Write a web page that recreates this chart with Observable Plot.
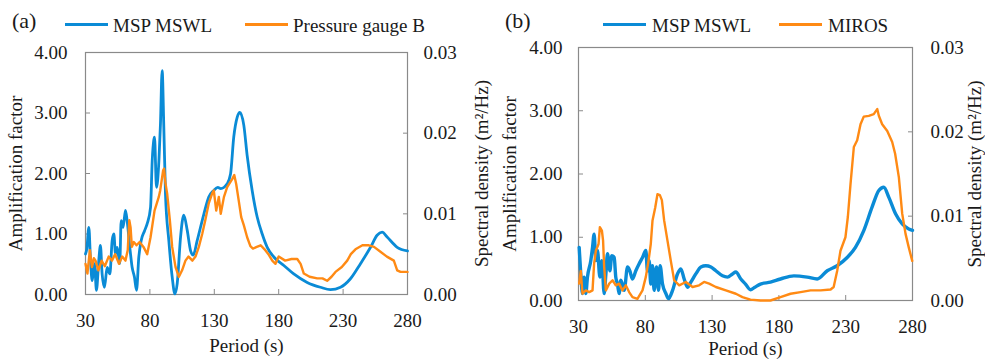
<!DOCTYPE html>
<html>
<head>
<meta charset="utf-8">
<script src="https://cdn.jsdelivr.net/npm/d3@7"></script>
<script src="https://cdn.jsdelivr.net/npm/@observablehq/plot@0.6"></script>
<style>
  html, body { margin: 0; padding: 0; background: #fff; }
  #wrap { position: relative; width: 985px; height: 361px; overflow: hidden; font-family: "Liberation Serif", "Times New Roman", serif; color: #1a1a1a; }
  .panel { position: absolute; top: 0; }
  .tag { position: absolute; font-size: 22px; line-height: 22px; }
  .sw { position: absolute; height: 0; border-top: 3px solid; width: 43px; }
  .lt { position: absolute; font-size: 19px; line-height: 19px; white-space: nowrap; }
</style>
</head>
<body>
<div id="wrap">
  <div id="pa" class="panel" style="left:0px"></div>
  <div id="pb" class="panel" style="left:490px"></div>
  <div class="tag" style="left:12px; top:10px">(a)</div>
  <div class="sw" style="left:65px; top:23px; border-color:#0a8bd6"></div>
  <div class="lt" style="left:113px; top:16px">MSP MSWL</div>
  <div class="sw" style="left:245px; top:23px; border-color:#ff8a14"></div>
  <div class="lt" style="left:293px; top:16px">Pressure gauge B</div>
  <div class="tag" style="left:505px; top:10px">(b)</div>
  <div class="sw" style="left:603px; top:23px; border-color:#0a8bd6"></div>
  <div class="lt" style="left:652px; top:16px">MSP MSWL</div>
  <div class="sw" style="left:779px; top:23px; border-color:#ff8a14"></div>
  <div class="lt" style="left:828px; top:16px">MIROS</div>
</div>
<script>
// ---- tick values ----
const periodTicks = [30, 80, 130, 180, 230, 280];
const ampTicks = [0, 1, 2, 3, 4];
const sdTicks = [0, 0.01, 0.02, 0.03];

// ---- panel (a): MSP MSWL amplification factor [period (s), factor] ----
const aMswl = [[30,0.67],[31,0.75],[32.6,1.11],[33.9,0.56],[35.2,0.23],[37,0.51],[38.5,0.07],[40.3,0.56],[41.6,0.81],[42.9,0.34],[44.7,0.12],[46.8,0.45],[48.9,0.34],[50.7,0.89],[52,1.0],[53.3,0.67],[54.6,0.78],[56.6,0.51],[57.7,1.22],[59.2,1.11],[61,1.39],[62.3,1.22],[64.4,0.78],[66.2,0.45],[68,0.29],[69.6,0.07],[71.4,0.62],[73.2,0.89],[75.8,1.05],[77.9,1.17],[80.5,1.44],[81.8,2.21],[83,2.55],[83.6,2.6],[85.1,1.77],[87,2.21],[88.2,2.82],[89.5,3.7],[90.8,2.77],[92.1,1.66],[94.7,0.89],[97.3,0.29],[99.4,0.01],[101.2,0.18],[103.8,0.95],[106.3,1.31],[109,1.06],[111.5,0.73],[113.6,0.65],[116.7,0.89],[121.9,1.33],[125.7,1.61],[129.6,1.72],[132.7,1.77],[135,1.75],[140,1.83],[142.6,1.99],[145.1,2.6],[147.8,2.93],[149.8,3.01],[152.9,2.8],[155.5,2.3],[159.4,1.72],[163.3,1.28],[167.2,1.0],[171.1,0.78],[176.2,0.62],[184,0.48],[191.7,0.34],[202.1,0.2],[212.4,0.12],[220.2,0.08],[228,0.12],[235.7,0.26],[243.5,0.51],[251.3,0.78],[256.4,0.98],[260.3,1.03],[264.2,0.95],[272,0.78],[280,0.72]];

// ---- panel (a): Pressure gauge B spectral density [period (s), m2/Hz] ----
const aGauge = [[30,0.0038],[31.5,0.0026],[33.4,0.0055],[35,0.0034],[36.5,0.0045],[37.8,0.0042],[40,0.0030],[42.5,0.0042],[45,0.0035],[48,0.0047],[50.5,0.0042],[53,0.0050],[56,0.0038],[58.5,0.0047],[61,0.0042],[62.8,0.0055],[64,0.0092],[65,0.0083],[66,0.0059],[67.5,0.0065],[69.6,0.0061],[72,0.0065],[75,0.0059],[77.9,0.0050],[80.5,0.0071],[83.6,0.0104],[86.9,0.0121],[88,0.0129],[90.3,0.0154],[91,0.0156],[92,0.0139],[93.4,0.0125],[95.5,0.0092],[97.3,0.0059],[99.9,0.0034],[102.5,0.0022],[105,0.0030],[107.6,0.0042],[110,0.0047],[113,0.0042],[115.4,0.0047],[118,0.0059],[120.6,0.0075],[123,0.0092],[125.7,0.0113],[128.3,0.0125],[129.6,0.0129],[131.5,0.0104],[133.5,0.0121],[135,0.0100],[137.5,0.0121],[140,0.0133],[143.9,0.0143],[145.5,0.0148],[147,0.0137],[149,0.0116],[150.9,0.0096],[152.9,0.0086],[155.5,0.0071],[158,0.0060],[160,0.0057],[163,0.0059],[166,0.0061],[169,0.0056],[172,0.0050],[175,0.0042],[177.5,0.0038],[180,0.0047],[185,0.0042],[190,0.0044],[194.4,0.0044],[197,0.0038],[199.5,0.0026],[204,0.0022],[209.9,0.0020],[214,0.0020],[217.6,0.0017],[221,0.0022],[224.1,0.0028],[229,0.0034],[233.2,0.0042],[236,0.0050],[239.6,0.0056],[245,0.0061],[250,0.0061],[254,0.0059],[259,0.0053],[264,0.0047],[269.4,0.0042],[272,0.0030],[274.6,0.0028],[280,0.0028]];

// ---- panel (b): MSP MSWL amplification factor ----
const bMswl = [[30.5,0.84],[31.7,0.42],[33,0.11],[34.2,0.37],[35.5,0.11],[36.7,0.37],[39.2,0.63],[40.5,0.84],[41.7,1.05],[43,0.63],[44.2,0.79],[46,0.37],[47.5,0.63],[49.2,0.11],[50.5,0.42],[51.7,0.74],[53.5,0.47],[54.9,0.71],[56.7,0.68],[57.9,0.37],[59.2,0.26],[60.4,0.11],[61.7,0.32],[64.2,0.16],[66.7,0.53],[68.4,0.47],[70.4,0.34],[72.9,0.47],[75.4,0.58],[77.9,0.68],[80.4,0.79],[81.6,0.47],[82.9,0.63],[84.1,0.26],[85.4,0.55],[86.6,0.16],[88.4,0.53],[89.9,0.16],[91.1,0.55],[92.9,0.26],[95.4,0.11],[97.4,0.03],[100.4,0.16],[104.1,0.42],[106.6,0.5],[109.1,0.34],[111.6,0.21],[114.1,0.29],[117.8,0.42],[121.6,0.53],[125.3,0.55],[129.1,0.53],[132.8,0.47],[137.8,0.39],[141.5,0.37],[145.3,0.42],[147.8,0.45],[151.5,0.34],[155,0.26],[158.7,0.17],[162,0.21],[166.2,0.26],[173.7,0.29],[181.2,0.34],[191.2,0.39],[201.2,0.37],[208.7,0.34],[216.2,0.47],[223.6,0.55],[231.1,0.68],[237.3,0.84],[243.6,1.11],[249.8,1.48],[254.8,1.74],[258.5,1.79],[262.3,1.63],[267.3,1.37],[272.3,1.21],[277.2,1.13],[280,1.11]];

// ---- panel (b): MIROS spectral density ----
const bMiros = [[30.5,0.0020],[31.7,0.0035],[33,0.0008],[35.5,0.0012],[38,0.0010],[40.5,0.0012],[41.7,0.0044],[43,0.0059],[45,0.0067],[46,0.0087],[47.5,0.0083],[48.4,0.0071],[49.2,0.0040],[50.5,0.0012],[53,0.0020],[55.5,0.0024],[57.9,0.0018],[60.4,0.0020],[62.9,0.0012],[65.4,0.0018],[67.9,0.0010],[70.4,0.0004],[74.1,0.0002],[77.9,0.0012],[80.4,0.0028],[82.4,0.0047],[84.1,0.0067],[85.4,0.0095],[87.4,0.0110],[89.1,0.0126],[90.9,0.0125],[92.4,0.0119],[94.1,0.0095],[96.6,0.0071],[99.1,0.0047],[101.6,0.0024],[105.4,0.0018],[110.3,0.0022],[115.4,0.0016],[120.3,0.0018],[124,0.0022],[127.8,0.0020],[132.8,0.0016],[140.3,0.0012],[147.8,0.0008],[152.7,0.0004],[158.7,0.0001],[166.2,0],[173.7,0],[181.2,0.0004],[188.7,0.0008],[196.2,0.0010],[203.7,0.0012],[211.2,0.0012],[218.7,0.0013],[221,0.0016],[223.6,0.0035],[226.1,0.0059],[229.8,0.0075],[231.6,0.0099],[233.6,0.0138],[236.1,0.0182],[238.6,0.0190],[241.1,0.0209],[243.5,0.0218],[247.3,0.0219],[251,0.0221],[253.6,0.0227],[254.8,0.0219],[257.3,0.0209],[261.1,0.0201],[264.8,0.0188],[267,0.0174],[269.8,0.0146],[272.3,0.0103],[274.8,0.0079],[277.2,0.0063],[279.8,0.0047]];

const BLUE = "#0a8bd6", ORANGE = "#ff8a14", GRID = "#8a8a8a";
const K = 4 / 0.03; // right axis (m2/Hz) mapped onto the left (factor) scale

function panel(blue, orange, m, o) {
  return Plot.plot({
    width: m.w, height: 361,
    marginLeft: m.l, marginRight: m.r, marginTop: m.t, marginBottom: m.b,
    style: {fontFamily: "'Liberation Serif','Times New Roman',serif", fontSize: "19px", color: "#1a1a1a", background: "transparent", overflow: "visible"},
    x: {domain: [30, 280]},
    y: {domain: [0, 4]},
    marks: [
      Plot.frame({stroke: GRID, strokeWidth: 1.2}),
      Plot.axisX({ticks: periodTicks, tickSize: -5, tickPadding: o.xPad, stroke: GRID,
        label: "Period (s)", labelAnchor: "center", labelArrow: "none", labelOffset: o.xLab}),
      Plot.axisY({ticks: ampTicks, tickFormat: d => d.toFixed(2), tickSize: -5, tickPadding: o.lPad, stroke: GRID,
        label: "Amplification factor", labelAnchor: "center", labelArrow: "none", labelOffset: o.lLab}),
      Plot.axisY({anchor: "right", ticks: sdTicks.map(v => v * K), tickFormat: d => (d / K).toFixed(2),
        tickSize: -5, tickPadding: o.rPad, stroke: GRID,
        label: "Spectral density (m²/Hz)", labelAnchor: "center", labelArrow: "none", labelOffset: o.rLab}),
      Plot.line(blue, {x: d => d[0], y: d => d[1], stroke: BLUE, strokeWidth: o.bw, curve: "monotone-x"}),
      Plot.line(orange, {x: d => d[0], y: d => d[1] * K, stroke: ORANGE, strokeWidth: 2.4, curve: "linear"})
    ]
  });
}

document.getElementById("pa").append(panel(aMswl, aGauge,
  {w: 490, l: 85, r: 83, t: 52, b: 67},
  {xPad: 24, xLab: 57, lPad: 23, lLab: 77, rPad: 21, rLab: 80, bw: 2.8}));
document.getElementById("pb").append(panel(bMswl, bMiros,
  {w: 495, l: 88, r: 73, t: 47, b: 61},
  {xPad: 24, xLab: 54, lPad: 21, lLab: 76, rPad: 23, rLab: 68, bw: 3.4}));
</script>
</body>
</html>
